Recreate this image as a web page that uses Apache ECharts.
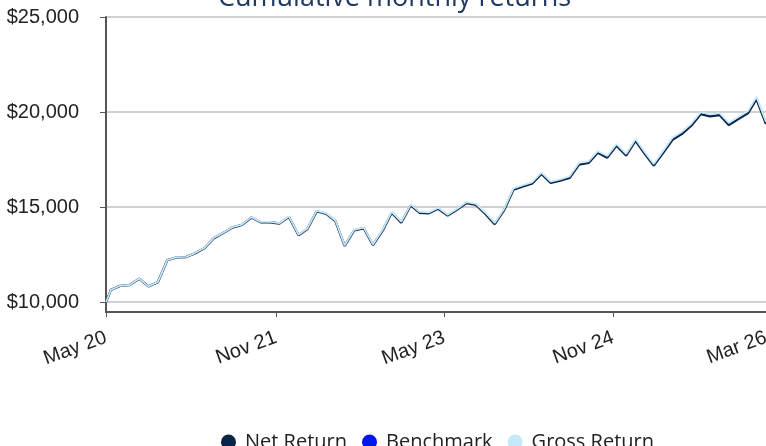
<!DOCTYPE html>
<html>
<head>
<meta charset="utf-8">
<script src="https://cdn.jsdelivr.net/npm/echarts@6/dist/echarts.min.js"></script>
<style>
  html, body { margin: 0; padding: 0; background: #fff; }
  #chart { width: 766px; height: 446px; }
</style>
</head>
<body>
<div id="chart"></div>
<script>
// valuation dates: inception, month ends, last date
const inception = '2020-05-15';
const lastDate = '2026-03-31';
const monthNames = ['Jan','Feb','Mar','Apr','May','Jun','Jul','Aug','Sep','Oct','Nov','Dec'];

const dates = [inception];
for (let y = 2020, m = 4; ; m++) {
    if (m > 11) { m = 0; y++; }
    if (y === 2026 && m >= 2) break;
    const d = new Date(Date.UTC(y, m + 1, 0));
    dates.push(y + '-' + String(m + 1).padStart(2, '0') + '-' + String(d.getUTCDate()).padStart(2, '0'));
}
dates.push(lastDate);

const netReturn = [10000,10640,10850,10890,11230,10820,11050,12200,12350,12370,
    12560,12830,13350,13630,13920,14060,14450,14200,14200,14130,
    14480,13510,13825,14770,14650,14260,12950,13770,13880,13000,
    13740,14700,14180,15090,14700,14670,14910,14550,14850,15210,
    15110,14650,14100,14820,15920,16090,16230,16740,16270,16390,
    16530,17240,17320,17860,17600,18230,17710,18490,17840,17180,
    17840,18540,18840,19280,19890,19770,19840,19320,19630,19930,
    20680,19370];

const grossReturn = [10000,10642,10853,10894,11235,10825,11056,12207,12358,12379,
    12575,12845,13366,13646,13936,14076,14466,14216,14217,14147,
    14510,13540,13856,14800,14680,14292,12980,13802,13912,13032,
    13785,14745,14226,15136,14747,14716,14957,14597,14898,15258,
    15170,14710,14160,14882,15984,16154,16295,16806,16336,16458,
    16610,17320,17402,17942,17682,18314,17794,18576,17925,17266,
    17940,18640,18942,19384,19995,19876,19946,19425,19737,20040,
    20790,19478];

const benchmark = [];

const xTickDates = ['2020-05-15', '2021-11-19', '2023-05-20', '2024-11-19', '2026-03-31'];
const yTicks = [10000, 15000, 20000, 25000];

const ts = (s) => new Date(s + 'T00:00:00Z').getTime();
const xTicks = xTickDates.map(ts);

const chart = echarts.init(document.getElementById('chart'));

chart.setOption({
    animation: false,
    title: {
        text: 'Cumulative monthly returns',
        left: 213,
        top: -20,
        textStyle: { fontFamily: 'Open Sans', fontSize: 27, fontWeight: 'normal', color: '#1f3864' }
    },
    legend: {
        left: 216,
        top: 427,
        icon: 'circle',
        itemWidth: 15,
        itemHeight: 15,
        itemGap: 15,
        textStyle: { fontFamily: 'Open Sans', fontSize: 20, color: '#222', padding: [0, 0, 0, 4] },
        data: ['Net Return', 'Benchmark', 'Gross Return']
    },
    grid: { left: 106, right: 0, top: 17, bottom: 134, outerBoundsMode: 'none' },
    xAxis: {
        type: 'value',
        min: ts(inception),
        max: ts(lastDate),
        axisLine: { lineStyle: { color: '#555', width: 2 } },
        axisTick: { show: true, customValues: xTicks, length: 5, lineStyle: { color: '#555', width: 1 } },
        axisLabel: {
            customValues: xTicks,
            rotate: 20,
            margin: 25,
            fontSize: 20,
            fontFamily: 'Liberation Sans',
            color: '#222',
            formatter: (val) => {
                const d = new Date(val);
                return monthNames[d.getUTCMonth()] + ' ' + String(d.getUTCFullYear()).slice(2);
            }
        },
        splitLine: { show: false }
    },
    yAxis: {
        type: 'value',
        min: 9474,
        max: 25000,
        axisLine: { show: true, lineStyle: { color: '#555', width: 2 } },
        axisTick: { show: true, customValues: yTicks, length: 6, lineStyle: { color: '#555' } },
        axisLabel: {
            customValues: yTicks,
            margin: 27,
            fontSize: 20,
            fontFamily: 'Liberation Sans',
            color: '#222',
            formatter: (v) => '$' + v.toLocaleString('en-US')
        },
        splitLine: { show: true, lineStyle: { color: '#d0d0d0', width: 2 } }
    },
    series: [
        {
            name: 'Net Return',
            type: 'line',
            symbol: 'none',
            color: '#0b2346',
            lineStyle: { width: 2.4 },
            data: dates.map((d, i) => [ts(d), netReturn[i]])
        },
        {
            name: 'Benchmark',
            type: 'line',
            symbol: 'none',
            color: '#0016ee',
            lineStyle: { width: 2 },
            data: benchmark
        },
        {
            name: 'Gross Return',
            type: 'line',
            symbol: 'none',
            color: '#c6e9fa',
            lineStyle: { width: 1.8 },
            data: dates.map((d, i) => [ts(d), grossReturn[i]])
        }
    ]
});
</script>
</body>
</html>
